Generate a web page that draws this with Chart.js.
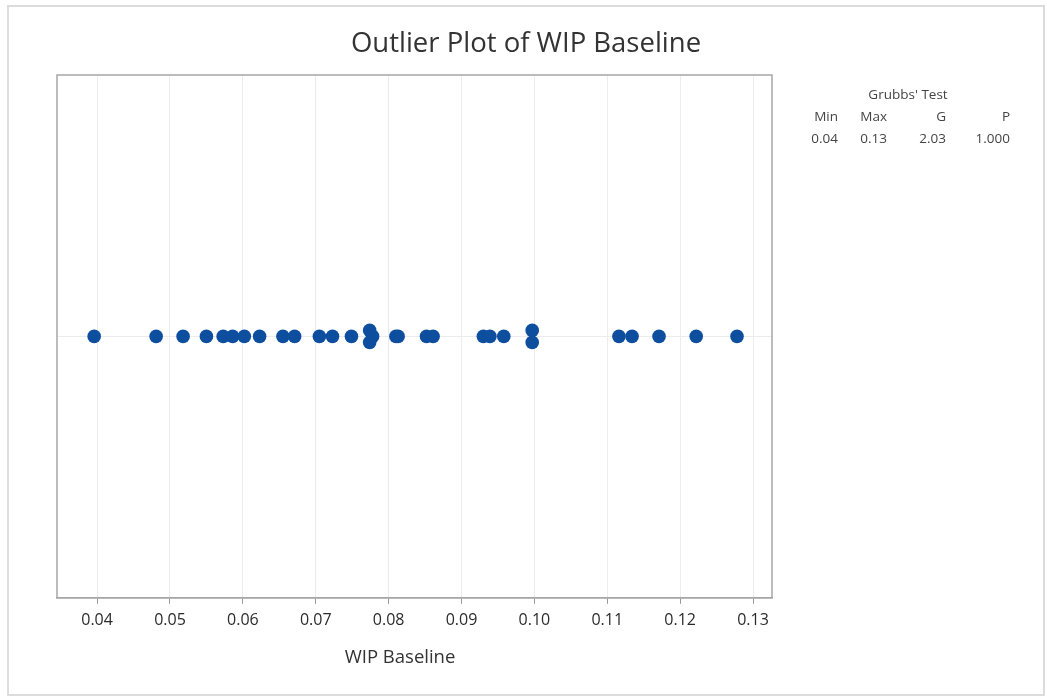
<!DOCTYPE html>
<html>
<head>
<meta charset="utf-8">
<script src="https://cdn.jsdelivr.net/npm/chart.js@4.4.1/dist/chart.umd.min.js"></script>
<style>
  html, body { margin: 0; padding: 0; background: #ffffff; }
  #wrap { position: relative; width: 1047px; height: 700px; }
  canvas { display: block; }
</style>
</head>
<body>
<div id="wrap"><canvas id="c" width="1047" height="700"></canvas></div>
<script>
// ---- data ----
const chartTitle = "Outlier Plot of WIP Baseline";
const axisTitle = "WIP Baseline";
const wipValues = [0.0396, 0.0481, 0.0518, 0.0550, 0.0573, 0.0586, 0.0602, 0.0623,
  0.0655, 0.0671, 0.0705, 0.0723, 0.0749, 0.0774, 0.0778, 0.0774, 0.0810, 0.0813,
  0.0852, 0.0861, 0.0930, 0.0939, 0.0958, 0.0997, 0.0997, 0.1116, 0.1134, 0.1171,
  0.1222, 0.1278];
// vertical stacking level of tied/overlapping points
const stackLevel = [0, 0, 0, 0, 0, 0, 0, 0,
  0, 0, 0, 0, 0, 1, 0, -1, 0, 0,
  0, 0, 0, 0, 0, 1, -1, 0, 0, 0,
  0, 0];
const tickValues = [0.04, 0.05, 0.06, 0.07, 0.08, 0.09, 0.10, 0.11, 0.12, 0.13];
const tickLabels = ["0.04", "0.05", "0.06", "0.07", "0.08", "0.09", "0.10", "0.11", "0.12", "0.13"];
const tableTitle = "Grubbs' Test";
const tableHeaders = ["Min", "Max", "G", "P"];
const tableValues = ["0.04", "0.13", "2.03", "1.000"];

const FONT = "'Open Sans', 'Noto Sans', sans-serif";
const pts = wipValues.map((v, i) => ({ x: v, y: stackLevel[i] }));

const decorPlugin = {
  id: 'decor',
  beforeDraw(chart) {
    const ctx = chart.ctx;
    ctx.save();
    ctx.fillStyle = '#ffffff';
    ctx.fillRect(0, 0, chart.width, chart.height);
    ctx.strokeStyle = '#dcdcdc';
    ctx.lineWidth = 2;
    ctx.strokeRect(8, 6, 1036, 689);
    ctx.restore();
  },
  afterDraw(chart) {
    const ctx = chart.ctx;
    const a = chart.chartArea;
    ctx.save();
    // plot frame
    ctx.strokeStyle = '#a6a6a6';
    ctx.lineWidth = 1.5;
    ctx.strokeRect(a.left, a.top, a.right - a.left, a.bottom - a.top);
    // title
    ctx.fillStyle = '#333333';
    ctx.font = "27.5px " + FONT;
    ctx.textAlign = 'center';
    ctx.textBaseline = 'middle';
    ctx.fillText(chartTitle, 526, 44);
    // axis title
    ctx.font = "18.5px " + FONT;
    ctx.fillText(axisTitle, 400, 658);
    // Grubbs table
    ctx.fillStyle = '#444444';
    ctx.font = "13.5px " + FONT;
    ctx.fillText(tableTitle, 908, 95);
    const rights = [838, 887, 946, 1010];
    ctx.textAlign = 'right';
    tableHeaders.forEach((h, i) => ctx.fillText(h, rights[i], 117));
    tableValues.forEach((h, i) => ctx.fillText(h, rights[i], 139));
    ctx.restore();
  }
};

new Chart(document.getElementById('c'), {
  type: 'scatter',
  data: {
    datasets: [{
      data: pts,
      backgroundColor: '#0d4e9f',
      borderColor: '#0d4e9f',
      borderWidth: 0,
      pointRadius: 6.8,
      pointHoverRadius: 6.8
    }]
  },
  options: {
    responsive: false,
    animation: false,
    events: [],
    layout: { padding: { left: 57, right: 275, top: 75, bottom: 63 } },
    plugins: {
      legend: { display: false },
      title: { display: false },
      tooltip: { enabled: false }
    },
    scales: {
      x: {
        type: 'linear',
        min: 0.0345,
        max: 0.1326,
        afterBuildTicks(scale) { scale.ticks = tickValues.map(v => ({ value: v })); },
        ticks: {
          callback: (v, i) => tickLabels[i],
          color: '#2b2b2b',
          font: { family: FONT, size: 16 },
          padding: 7,
          maxRotation: 0,
          autoSkip: false
        },
        grid: { color: '#ececec', lineWidth: 1, tickColor: '#999999', tickLength: 6, drawTicks: true },
        border: { display: true, color: '#a6a6a6', width: 1.5 },
        title: { display: false }
      },
      y: {
        type: 'linear',
        min: -43.6,
        max: 43.6,
        afterBuildTicks(scale) { scale.ticks = [{ value: 0 }]; },
        ticks: { display: false },
        grid: { color: '#ececec', lineWidth: 1, drawTicks: false },
        border: { display: false }
      }
    }
  },
  plugins: [decorPlugin]
});
</script>
</body>
</html>
